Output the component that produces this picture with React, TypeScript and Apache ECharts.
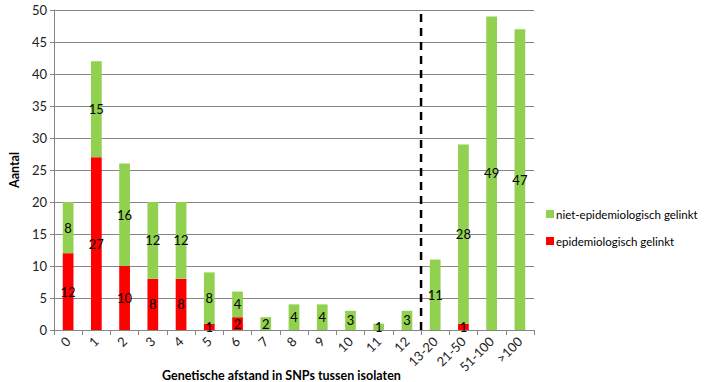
import React, { useEffect, useRef } from "react";
import * as echarts from "echarts";

const categories = ["0", "1", "2", "3", "4", "5", "6", "7", "8", "9", "10", "11", "12", "13-20", "21-50", "51-100", ">100"];
const epiValues = [12, 27, 10, 8, 8, 1, 2, 0, 0, 0, 0, 0, 0, 0, 1, 0, 0];
const nietEpiValues = [8, 15, 16, 12, 12, 8, 4, 2, 4, 4, 3, 1, 3, 11, 28, 49, 47];
const dividerAt = 13;
const yTicks = { min: 0, max: 50, interval: 5 };

const FONT = "Lato, Liberation Sans, sans-serif";

export default function App() {
  const ref = useRef<HTMLDivElement>(null);
  useEffect(() => {
    if (!ref.current) return;
    const chart = echarts.init(ref.current, undefined, { renderer: "svg" });
    const label = {
      show: true,
      position: "inside",
      color: "#000",
      fontSize: 13,
      fontFamily: FONT,
      formatter: (p: any) => (p.value ? String(p.value) : ""),
    };
    chart.setOption({
      animation: false,
      textStyle: { fontFamily: FONT },
      grid: { left: 45, right: 171, top: 10, bottom: 52, containLabel: false },
      legend: {
        orient: "vertical",
        left: 546,
        top: 208,
        padding: 0,
        itemWidth: 8,
        itemHeight: 8,
        itemGap: 15,
        icon: "rect",
        textStyle: { fontSize: 11.5, color: "#000", fontFamily: FONT, padding: [0, 0, 0, -3] },
        data: ["niet-epidemiologisch gelinkt", "epidemiologisch gelinkt"],
      },
      xAxis: [
        {
          type: "category",
          data: categories,
          axisLine: { lineStyle: { color: "#868686" } },
          axisTick: { show: true, alignWithLabel: false, length: 5, lineStyle: { color: "#868686" } },
          axisLabel: { rotate: 45, color: "#222", fontSize: 13, margin: 9, interval: 0, fontFamily: FONT },
        },
        {
          type: "value",
          min: 0,
          max: categories.length,
          show: false,
        },
      ],
      yAxis: {
        type: "value",
        min: yTicks.min,
        max: yTicks.max,
        interval: yTicks.interval,
        name: "Aantal",
        nameLocation: "middle",
        nameGap: 33,
        nameRotate: 90,
        nameTextStyle: { fontWeight: "bold", fontSize: 12.5, color: "#000", fontFamily: FONT },
        axisLine: { show: true, lineStyle: { color: "#868686" } },
        axisTick: { show: true, length: 4, lineStyle: { color: "#868686" } },
        axisLabel: { color: "#222", fontSize: 13, margin: 7, fontFamily: FONT },
        splitLine: { lineStyle: { color: "#868686", width: 1 } },
      },
      graphic: [
        {
          type: "text",
          left: 162,
          top: 369,
          style: {
            text: "Genetische afstand in SNPs tussen isolaten",
            font: "bold 12.5px " + FONT,
            fill: "#000",
          },
        },
      ],
      series: [
        {
          name: "epidemiologisch gelinkt",
          type: "bar",
          stack: "a",
          data: epiValues,
          barWidth: "38%",
          itemStyle: { color: "#FF0000" },
          label,
        },
        {
          name: "niet-epidemiologisch gelinkt",
          type: "bar",
          stack: "a",
          data: nietEpiValues,
          barWidth: "38%",
          itemStyle: { color: "#92D050" },
          label,
        },
        {
          type: "line",
          xAxisIndex: 1,
          data: [
            [dividerAt, yTicks.min],
            [dividerAt, yTicks.max],
          ],
          symbol: "none",
          lineStyle: { color: "#000", width: 2.5, type: [8, 6] },
          silent: true,
          z: 5,
        },
      ],
    });
    return () => chart.dispose();
  }, []);
  return <div ref={ref} style={{ width: 705, height: 382, position: "absolute", left: 0, top: 0, background: "#fff" }} />;
}
